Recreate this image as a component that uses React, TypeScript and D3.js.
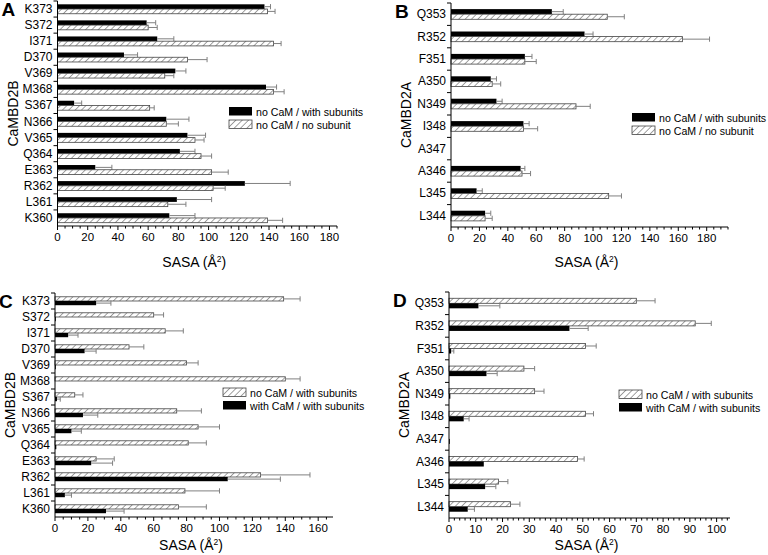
import * as d3 from 'd3'

// residues, top to bottom
const cats2B = ['K373', 'S372', 'I371', 'D370', 'V369', 'M368', 'S367', 'N366', 'V365', 'Q364', 'E363', 'R362', 'L361', 'K360']
const cats2A = ['Q353', 'R352', 'F351', 'A350', 'N349', 'I348', 'A347', 'A346', 'L345', 'L344']

// panel A: CaMBD2B
const aWithSub = [137, 59, 66, 44, 78, 138, 11, 72, 86, 81, 25, 124, 79, 74]
const aWithSubErr = [4, 6, 11, 9, 7, 7, 5, 15, 12, 10, 11, 30, 23, 17]
const aNoSub = [139, 60, 143, 86, 71, 143, 61, 72, 91, 95, 102, 103, 73, 139]
const aNoSubErr = [5, 6, 5, 13, 6, 7, 3, 8, 6, 7, 11, 8, 12, 10]

// panel B: CaMBD2A
const bWithSub = [71, 94, 52, 28, 32, 51, 0, 49, 18, 24]
const bWithSubErr = [8, 6, 5, 4, 4, 4, 0, 3, 4, 4]
const bNoSub = [110, 163, 52, 29, 88, 51, 0, 50, 111, 24]
const bNoSubErr = [12, 19, 8, 6, 10, 10, 0, 6, 9, 5]

// panel C: CaMBD2B, no CaM vs with CaM
const cNoCam = [139, 60, 67, 45, 80, 140, 12, 74, 87, 81, 25, 125, 79, 75]
const cNoCamErr = [10, 6, 11, 9, 7, 9, 5, 15, 13, 11, 11, 30, 21, 17]
const cWithCam = [25, 0.5, 8, 18, 0.5, 0, 1.2, 17, 10, 0.8, 22, 105, 6, 31]
const cWithCamErr = [9, 0, 6, 7, 0, 0, 2, 9, 6, 0, 13, 32, 4, 11]

// panel D: CaMBD2A, no CaM vs with CaM
const dNoCam = [70, 92, 51, 28, 32, 51, 0, 48, 18.5, 23]
const dNoCamErr = [7, 6, 4, 4, 3.5, 3, 0, 2.5, 3.5, 3.5]
const dWithCam = [11, 45, 0.8, 14, 0.5, 5.5, 0.3, 13, 13.5, 7]
const dWithCamErr = [8, 7, 1, 4, 0, 2, 0, 0, 4, 2.5]

const FONT = "'Liberation Sans', Arial, sans-serif"

type Series = { name: string; values: number[]; errs: number[]; hatched: boolean }

type PanelProps = {
  letter: string
  yTitle: string
  cats: string[]
  series: Series[]
  xMax: number
  xRange: [number, number]
  yRange: [number, number]
  major: number
  minor: number
  outer: number
  legend: [number, number]
  titleY: number
}

function Panel({ letter, yTitle, cats, series, xMax, xRange, yRange, major, minor, outer, legend, titleY }: PanelProps) {
  const x = d3.scaleLinear().domain([0, xMax]).range(xRange)
  const y = d3.scaleBand().domain(cats).range(yRange).paddingInner(0).paddingOuter(0)
  const inner = d3
    .scaleBand()
    .domain(series.map((s) => s.name))
    .range([0, y.bandwidth()])
    .paddingInner(0)
    .paddingOuter(outer)
  const x0 = xRange[0]
  const axisY = yRange[1]
  const majors = d3.range(0, xMax + 0.001, major)
  const minors = d3.range(0, xMax + 0.001, minor).filter((v) => Math.abs(v / major - Math.round(v / major)) > 1e-6)
  const midY = (yRange[0] + yRange[1]) / 2
  const midX = (xRange[0] + xRange[1]) / 2

  return (
    <g fontFamily={FONT}>
      <text x={x0 - 56} y={yRange[0] + 15} fontSize={19} fontWeight="bold">
        {letter}
      </text>
      {series.map((s) => (
        <g key={s.name}>
          {cats.map((c, i) => {
            const by = (y(c) ?? 0) + (inner(s.name) ?? 0)
            const bh = inner.bandwidth()
            const v = s.values[i]
            const e = s.errs[i]
            return (
              <g key={c}>
                {v > 0 && (
                  <rect
                    x={x(0)}
                    y={by}
                    width={x(v) - x(0)}
                    height={bh}
                    fill={s.hatched ? 'url(#hatch)' : '#000'}
                    stroke={s.hatched ? '#444' : 'none'}
                    strokeWidth={0.8}
                  />
                )}
                {e > 0 && (
                  <g stroke="#808080" strokeWidth={1}>
                    <line x1={x(v)} x2={x(v + e)} y1={by + bh / 2} y2={by + bh / 2} />
                    <line x1={x(v + e)} x2={x(v + e)} y1={by + bh / 2 - 2.6} y2={by + bh / 2 + 2.6} />
                  </g>
                )}
              </g>
            )
          })}
        </g>
      ))}
      {/* y axis */}
      <line x1={x0} x2={x0} y1={yRange[0]} y2={axisY} stroke="#000" strokeWidth={1} />
      {cats.map((c) => (
        <g key={c}>
          <line x1={x0 - 4} x2={x0} y1={y(c)} y2={y(c)} stroke="#000" />
          <text x={x0 - 5} y={(y(c) ?? 0) + y.bandwidth() / 2 + 4} fontSize={12} textAnchor="end">
            {c}
          </text>
        </g>
      ))}
      <text
        transform={`translate(${x0 - 40},${midY}) rotate(-90)`}
        fontSize={14}
        textAnchor="middle"
      >
        {yTitle}
      </text>
      {/* x axis */}
      <line x1={x0} x2={xRange[1]} y1={axisY} y2={axisY} stroke="#000" strokeWidth={1} />
      {majors.map((v) => (
        <g key={v}>
          <line x1={x(v)} x2={x(v)} y1={axisY} y2={axisY + 4} stroke="#000" />
          <text x={x(v)} y={axisY + 15} fontSize={11.5} textAnchor="middle">
            {v}
          </text>
        </g>
      ))}
      {minors.map((v) => (
        <line key={v} x1={x(v)} x2={x(v)} y1={axisY} y2={axisY + 2.5} stroke="#000" />
      ))}
      <text x={midX - 3} y={titleY} fontSize={14} textAnchor="middle">
        SASA (Å
        <tspan dy={-5} fontSize={8.5}>
          2
        </tspan>
        <tspan dy={5}>)</tspan>
      </text>
      {/* legend */}
      {series.map((s, i) => (
        <g key={s.name} transform={`translate(${legend[0]},${legend[1] + i * 13})`}>
          <rect
            width={23}
            height={8.5}
            fill={s.hatched ? 'url(#hatch)' : '#000'}
            stroke={s.hatched ? '#444' : 'none'}
            strokeWidth={0.8}
          />
          <text x={27} y={8.5} fontSize={10.6}>
            {s.name}
          </text>
        </g>
      ))}
    </g>
  )
}

export default function App() {
  const wS = 'no CaM / with subunits'
  const nS = 'no CaM / no subunit'
  const wC = 'with CaM / with subunits'
  return (
    <svg width={768} height={555} style={{ position: 'absolute', left: 0, top: 0, background: '#fff' }}>
      <defs>
        <pattern id="hatch" patternUnits="userSpaceOnUse" width={4.5} height={4.5} patternTransform="rotate(45)">
          <rect width={4.5} height={4.5} fill="#fff" />
          <line x1={0} y1={0} x2={0} y2={4.5} stroke="#555" strokeWidth={1.1} />
        </pattern>
      </defs>
      <Panel
        letter="A"
        yTitle="CaMBD2B"
        cats={cats2B}
        series={[
          { name: wS, values: aWithSub, errs: aWithSubErr, hatched: false },
          { name: nS, values: aNoSub, errs: aNoSubErr, hatched: true },
        ]}
        xMax={185}
        xRange={[57.5, 337]}
        yRange={[1, 226]}
        major={20}
        minor={5}
        outer={0.7}
        legend={[229, 107]}
        titleY={267}
      />
      <Panel
        letter="B"
        yTitle="CaMBD2A"
        cats={cats2A}
        series={[
          { name: wS, values: bWithSub, errs: bWithSubErr, hatched: false },
          { name: nS, values: bNoSub, errs: bNoSubErr, hatched: true },
        ]}
        xMax={195}
        xRange={[451, 728]}
        yRange={[3, 227]}
        major={20}
        minor={5}
        outer={1.2}
        legend={[632, 113]}
        titleY={267}
      />
      <Panel
        letter="C"
        yTitle="CaMBD2B"
        cats={cats2B}
        series={[
          { name: wS, values: cNoCam, errs: cNoCamErr, hatched: true },
          { name: wC, values: cWithCam, errs: cWithCamErr, hatched: false },
        ]}
        xMax={169}
        xRange={[55, 333]}
        yRange={[293, 517]}
        major={20}
        minor={5}
        outer={0.9}
        legend={[223, 388]}
        titleY={550}
      />
      <Panel
        letter="D"
        yTitle="CaMBD2A"
        cats={cats2A}
        series={[
          { name: wS, values: dNoCam, errs: dNoCamErr, hatched: true },
          { name: wC, values: dWithCam, errs: dWithCamErr, hatched: false },
        ]}
        xMax={105}
        xRange={[449, 730]}
        yRange={[292, 518]}
        major={10}
        minor={2}
        outer={1.25}
        legend={[619, 390]}
        titleY={550}
      />
    </svg>
  )
}
